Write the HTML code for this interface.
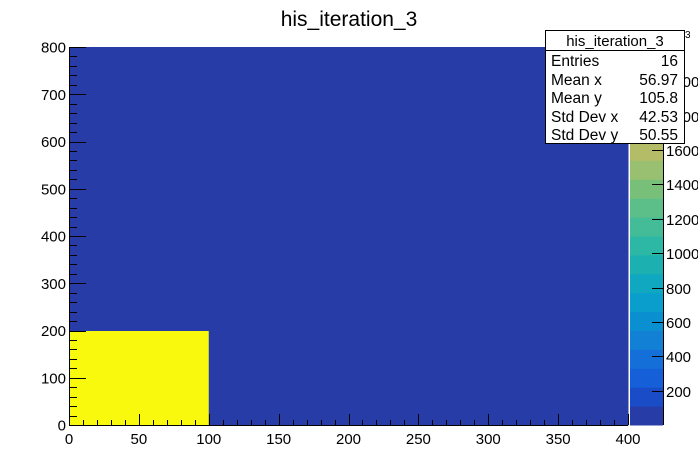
<!DOCTYPE html>
<html><head><meta charset="utf-8"><style>
html,body{margin:0;padding:0;background:#fff;}
svg{display:block;font-family:"Liberation Sans",Arial,sans-serif;}
</style></head><body>
<svg id="chart" width="698" height="473" viewBox="0 0 698 473">
<rect x="0" y="0" width="698" height="473" fill="#fff"/>
<text x="349" y="26" font-size="21" text-anchor="middle">his_iteration_3</text>
<g id="cells"></g>
<g id="palette"></g>
<g id="axes"></g>
<g>
<rect x="545.5" y="30.5" width="139" height="113" fill="#fff" stroke="#000" stroke-width="1"/>
<line x1="545.5" y1="50.5" x2="684.5" y2="50.5" stroke="#000"/>
<text x="615" y="46" font-size="15" text-anchor="middle">his_iteration_3</text>
<g font-size="15.5">
<text x="551" y="66">Entries</text><text x="678" y="66" text-anchor="end">16</text>
<text x="551" y="85">Mean x</text><text x="678" y="85" text-anchor="end">56.97</text>
<text x="551" y="103">Mean y</text><text x="678" y="103" text-anchor="end">105.8</text>
<text x="551" y="122">Std Dev x</text><text x="678" y="122" text-anchor="end">42.53</text>
<text x="551" y="140">Std Dev y</text><text x="678" y="140" text-anchor="end">50.55</text>
</g>
</g>
<text x="685" y="38" font-size="10">3</text>
</svg>
<script>
const xEdges = [0, 100, 200, 300, 400];
const yEdges = [0, 200, 400, 600, 800];
// values[row y][col x]
const values = [
  [2200, 1, 1, 1],
  [1, 1, 1, 1],
  [1, 1, 1, 1],
  [1, 1, 1, 1]
];
const xTicks = [0, 50, 100, 150, 200, 250, 300, 350, 400];
const yTicks = [0, 100, 200, 300, 400, 500, 600, 700, 800];
const zTicks = [200, 400, 600, 800, 1000, 1200, 1400, 1600, 1800, 2000];
const zMax = 2200;
const colors = ["#283ca8","#1a4cc8","#1560d8","#1470d8","#1280d4","#0a90d0","#0a9ecc","#10a8c0","#1cb0b0","#2cb8a4","#44bc98","#5cbf8a","#78c07a","#98c070","#b4bc68","#ccb860","#dfb852","#eec442","#f6dc2a","#f9f90e"];
const NS = "http://www.w3.org/2000/svg";
const X0=69, X1=628, Y0=425, Y1=47;
const sx = v => X0 + (v - 0) / 400 * (X1 - X0);
const sy = v => Y0 - (v - 0) / 800 * (Y0 - Y1);
const PX0=630, PX1=663;
const sz = v => Y0 - v / zMax * (Y0 - Y1);
function mk(tag, attrs, parent){const e=document.createElementNS(NS,tag);for(const k in attrs)e.setAttribute(k,attrs[k]);parent.appendChild(e);return e;}
const colorOf = v => colors[Math.min(colors.length-1, Math.max(0, Math.floor(v / zMax * colors.length - 1e-9)))];
const cells = document.getElementById('cells');
for (let j=0;j<values.length;j++) for (let i=0;i<values[j].length;i++){
  const v = values[j][i];
  const r = mk('rect',{x:sx(xEdges[i]),y:sy(yEdges[j+1]),width:sx(xEdges[i+1])-sx(xEdges[i])+0.5,height:sy(yEdges[j])-sy(yEdges[j+1])+0.5,fill:colorOf(v)},cells);
  
  
}
const pal = document.getElementById('palette');
for (let k=0;k<colors.length;k++){
  const a=k*zMax/colors.length, b=(k+1)*zMax/colors.length;
  const r = mk('rect',{x:PX0,y:sz(b),width:PX1-PX0,height:sz(a)-sz(b)+0.5,fill:colors[k]},pal);
  
  
}
mk('line',{x1:PX1+0.5,y1:Y1,x2:PX1+0.5,y2:Y0,stroke:'#000'},pal);
zTicks.forEach(t=>{
  const y=Math.round(sz(t))+0.5;
  mk('line',{x1:PX1-11,y1:y,x2:PX1,y2:y,stroke:'#000'},pal);
  const tx = mk('text',{x:PX1+3,y:y+5.5,'font-size':15},pal); tx.textContent=t;
  
  
});
const ax = document.getElementById('axes');
mk('line',{x1:X0,y1:Y0+0.5,x2:X1,y2:Y0+0.5,stroke:'#000'},ax);
mk('line',{x1:X0+0.5,y1:Y1,x2:X0+0.5,y2:Y0,stroke:'#000'},ax);
for (let v=0; v<=400; v+=10){
  const x=Math.round(sx(v))+0.5, maj=(v%50===0);
  mk('line',{x1:x,y1:Y0,x2:x,y2:Y0-(maj?11:5),stroke:'#000'},ax);
}
xTicks.forEach(t=>{const tx=mk('text',{x:sx(t),y:Y0+19,'font-size':15,'text-anchor':'middle'},ax);tx.textContent=t;
  
  });
for (let v=0; v<=800; v+=20){
  const y=Math.round(sy(v))+0.5, maj=(v%100===0);
  mk('line',{x1:X0,y1:y,x2:X0+(maj?17:8),y2:y,stroke:'#000'},ax);
}
yTicks.forEach(t=>{const tx=mk('text',{x:X0-3,y:sy(t)+5.5,'font-size':15,'text-anchor':'end'},ax);tx.textContent=t;
  
  });
</script>
</body></html>
